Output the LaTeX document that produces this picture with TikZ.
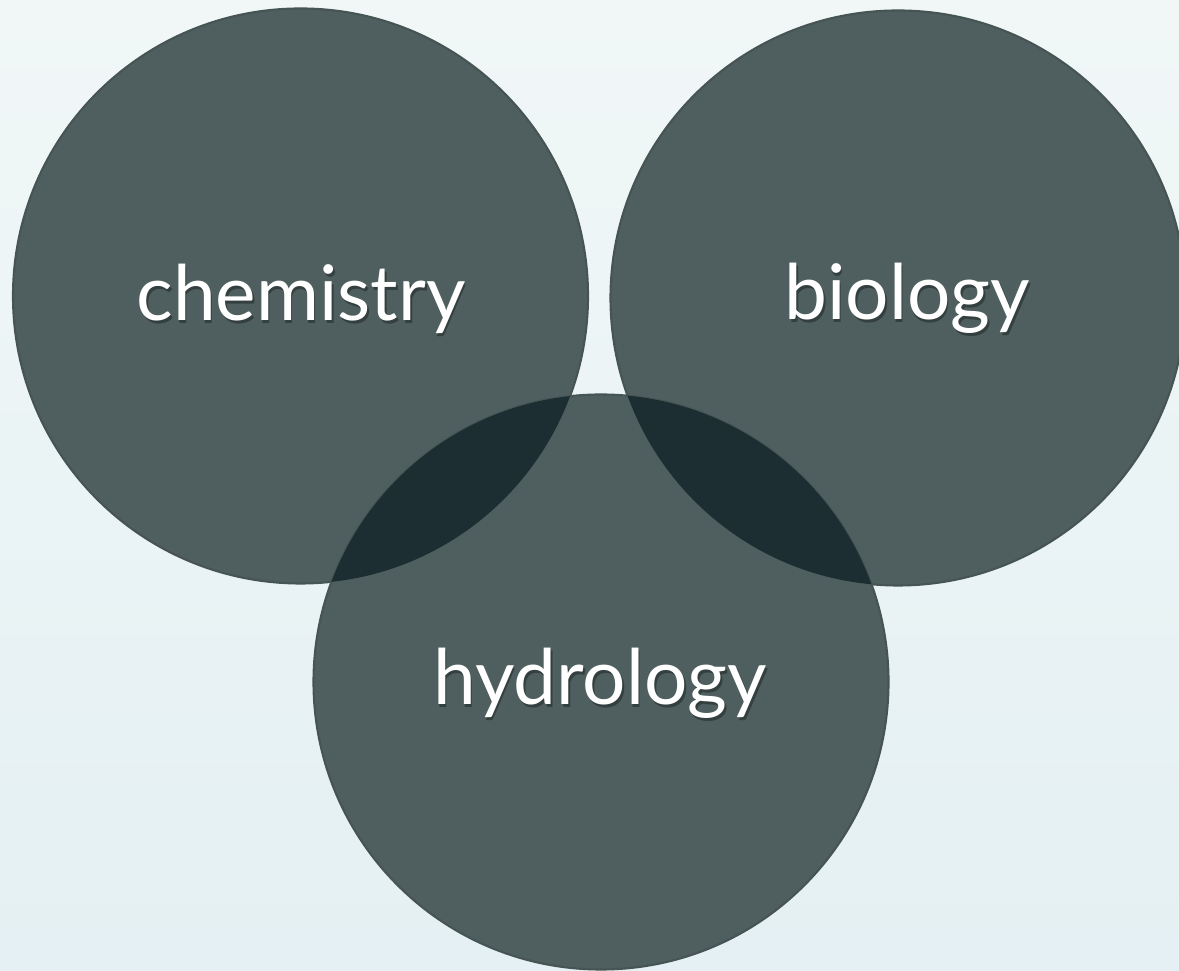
\documentclass[tikz,border=0pt]{standalone}
\usepackage{fontspec}
\setmainfont{Lato}
\usepackage{tikz}
\usetikzlibrary{positioning,calc}
\definecolor{PageLight}{RGB}{241,247,247}
\definecolor{PageBlue}{RGB}{228,240,243}
\definecolor{SlateGray}{RGB}{79,94,94}
\definecolor{SlateRim}{RGB}{70,84,84}
\definecolor{DeepTeal}{RGB}{28,46,49}
\definecolor{TextShade}{RGB}{52,63,63}
\newcommand{\shadowed}[1]{\makebox[0pt][l]{\hspace{0.5pt}\raisebox{-0.9pt}{\color{TextShade}#1}}#1}
\tikzset{
  disc/.style={circle,fill=SlateGray,draw=SlateRim,line width=0.6pt,inner sep=0pt,minimum size=5.75cm},
  word/.style={text=white,font=\fontsize{21.8}{26}\selectfont,inner sep=0pt},
}
\begin{document}
\begin{tikzpicture}
\shade[top color=PageLight,bottom color=PageBlue] (0,0) rectangle (11.79,9.71);
\useasboundingbox (0,0) rectangle (11.79,9.71);
\coordinate (c) at (3.005,6.75);
\coordinate (b) at (8.98,6.73);
\coordinate (h) at (6.01,2.89);
\node[disc] (chem) at (c) {};
\node[disc] (bio) at (b) {};
\node[disc] (hydro) at (h) {};
% darker lenses where the circles meet
\begin{scope}
  \clip (c) circle (2.875);
  \fill[DeepTeal] (h) circle (2.875);
\end{scope}
\begin{scope}
  \clip (b) circle (2.875);
  \fill[DeepTeal] (h) circle (2.875);
\end{scope}
\node[word] (chemlab) at (3.01,6.71) {\shadowed{chemistry}};
\node[word] (biolab) at (9.07,6.71) {\shadowed{biology}};
\node[word] (hydrolab) at (6.00,2.86) {\shadowed{hydrology}};
\end{tikzpicture}
\end{document}
